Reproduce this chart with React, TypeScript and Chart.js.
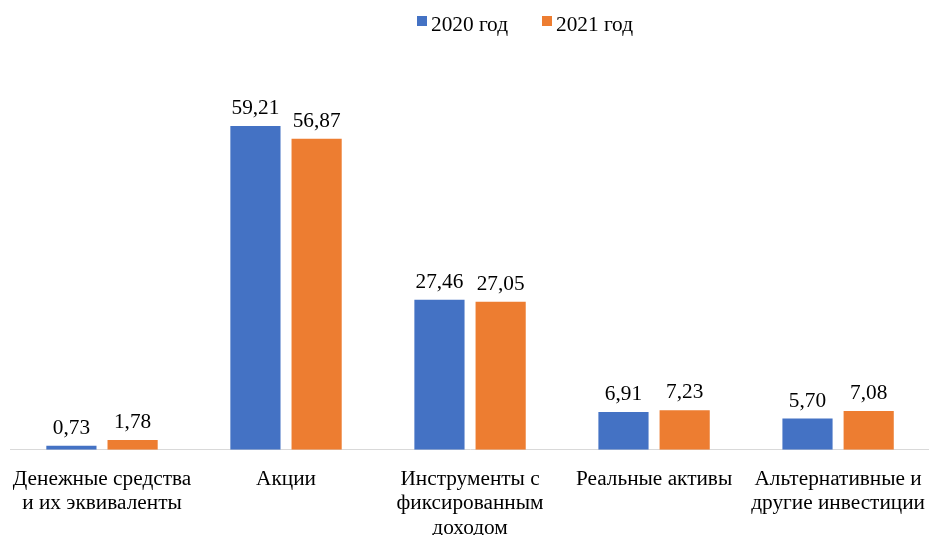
import React, { useEffect, useRef } from "react";
import { Chart, registerables } from "chart.js";

Chart.register(...registerables);

const categories: string[][] = [
  ["Денежные средства", "и их эквиваленты"],
  ["Акции"],
  ["Инструменты с", "фиксированным", "доходом"],
  ["Реальные активы"],
  ["Альтернативные и", "другие инвестиции"],
];
const series2020: number[] = [0.73, 59.21, 27.46, 6.91, 5.7];
const series2021: number[] = [1.78, 56.87, 27.05, 7.23, 7.08];
const seriesNames: string[] = ["2020 год", "2021 год"];

const FONT = "'Liberation Serif', 'Times New Roman', serif";
const FS = 21.3;

const valueLabels = {
  id: "valueLabels",
  afterDatasetsDraw(chart: any) {
    const ctx = chart.ctx;
    ctx.save();
    ctx.font = `${FS}px ${FONT}`;
    ctx.fillStyle = "#000";
    ctx.textAlign = "center";
    ctx.textBaseline = "alphabetic";
    chart.data.datasets.forEach((ds: any, di: number) => {
      const meta = chart.getDatasetMeta(di);
      meta.data.forEach((el: any, i: number) => {
        const v = ds.data[i] as number;
        ctx.fillText(v.toFixed(2).replace(".", ","), el.x, el.y - 12);
      });
    });
    ctx.restore();
  },
};

const LEGEND_X = [417, 542];
const customLegend = {
  id: "customLegend",
  afterDraw(chart: any) {
    const ctx = chart.ctx;
    ctx.save();
    ctx.font = `${FS}px ${FONT}`;
    ctx.textBaseline = "alphabetic";
    ctx.textAlign = "left";
    chart.data.datasets.forEach((ds: any, i: number) => {
      const x = LEGEND_X[i];
      ctx.fillStyle = ds.backgroundColor;
      ctx.fillRect(x, 16, 10, 10);
      ctx.fillStyle = "#000";
      ctx.fillText(ds.label, x + 14, 30.5);
    });
    ctx.restore();
  },
};

export default function App() {
  const ref = useRef<HTMLCanvasElement | null>(null);
  useEffect(() => {
    document.body.style.margin = "0";
    const c = new Chart(ref.current!, {
      type: "bar",
      data: {
        labels: categories,
        datasets: [
          { label: seriesNames[0], data: series2020, backgroundColor: "#4472C4", barPercentage: 0.82, categoryPercentage: 0.665 },
          { label: seriesNames[1], data: series2021, backgroundColor: "#ED7D31", barPercentage: 0.82, categoryPercentage: 0.665 },
        ],
      },
      options: {
        animation: false,
        responsive: false,
        layout: { autoPadding: false, padding: { left: 10, right: 0, top: 67, bottom: 0 } },
        plugins: {
          legend: { display: false },
          tooltip: { enabled: false },
        },
        scales: {
          x: {
            grid: { display: false },
            border: { color: "#d9d9d9", width: 1 },
            ticks: {
              color: "#000",
              font: { family: FONT, size: FS, lineHeight: 1.13 },
              maxRotation: 0,
              autoSkip: false,
              padding: 10,
            },
          },
          y: {
            display: false,
            min: 0,
            max: 70,
          },
        },
      },
      plugins: [valueLabels, customLegend],
    });
    return () => c.destroy();
  }, []);
  return (
    <div style={{ width: 929, height: 535, overflow: "hidden" }}>
      <canvas ref={ref} width={935} height={550} style={{ display: "block" }} />
    </div>
  );
}
